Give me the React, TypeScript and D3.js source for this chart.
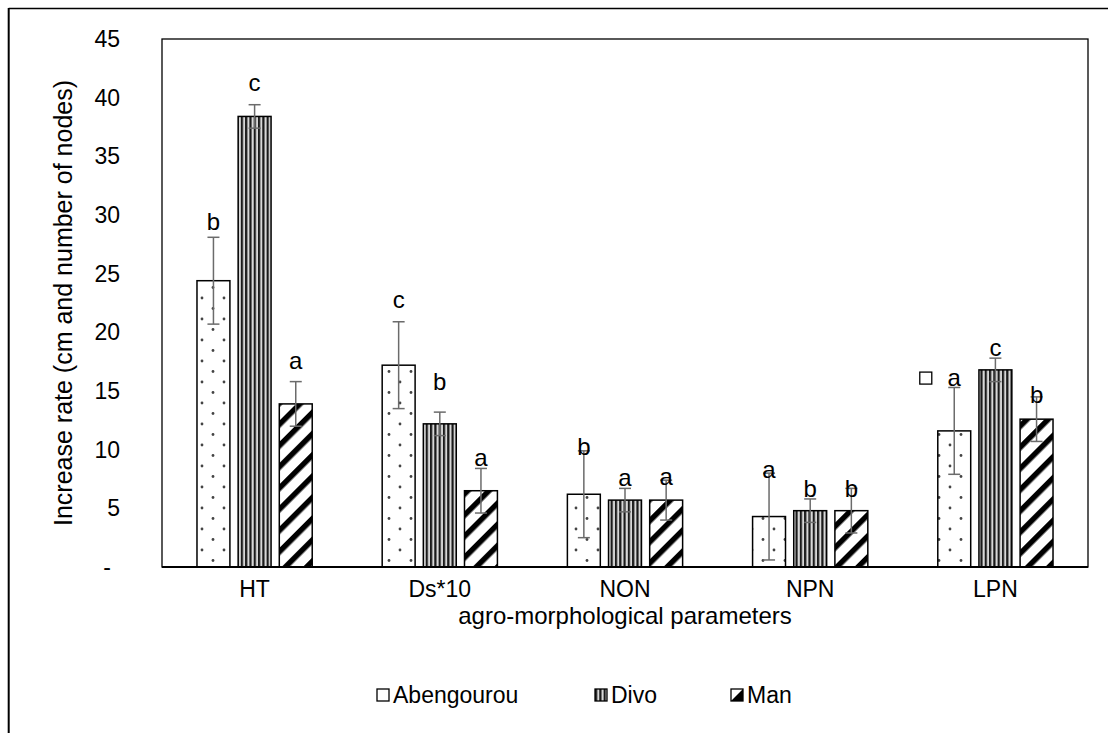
// App.tsx
import React, { useRef, useEffect } from 'react';
import * as d3 from 'd3';

const categories = ['HT', 'Ds*10', 'NON', 'NPN', 'LPN'];
const seriesNames = ['Abengourou', 'Divo', 'Man'];

// mean values
const abengourou = [24.4, 17.2, 6.2, 4.3, 11.6];
const divo = [38.4, 12.2, 5.7, 4.8, 16.8];
const man = [13.9, 6.5, 5.7, 4.8, 12.6];

// error (+/-)
const abengourouErr = [3.7, 3.7, 3.7, 3.7, 3.7];
const divoErr = [1.0, 1.0, 1.0, 1.0, 1.0];
const manErr = [1.9, 1.9, 1.7, 1.9, 1.9];

// significance letters and the height they sit at
const abengourouSig = ['b', 'c', 'b', 'a', 'a'];
const divoSig = ['c', 'b', 'a', 'b', 'c'];
const manSig = ['a', 'a', 'a', 'b', 'b'];
const abengourouSigY = [29.4, 22.8, 10.3, 8.3, 16.1];
const divoSigY = [41.3, 15.8, 7.6, 6.7, 18.7];
const manSigY = [17.6, 9.3, 7.7, 6.7, 14.7];

const yTicks = [0, 5, 10, 15, 20, 25, 30, 35, 40, 45];

const App = () => {
    const chartRef = useRef<SVGSVGElement>(null);

    useEffect(() => {
        const root = d3.select(chartRef.current);
        root.selectAll('*').remove();

        const font = 'Liberation Sans, Arial, sans-serif';
        const left = 162, right = 1088, top = 39, bottom = 567;

        const values = [abengourou, divo, man];
        const errs = [abengourouErr, divoErr, manErr];
        const sigs = [abengourouSig, divoSig, manSig];
        const sigYs = [abengourouSigY, divoSigY, manSigY];
        const fills = ['url(#dots)', 'url(#vstripes)', 'url(#diag)'];

        // patterns
        const defs = root.append('defs');
        const dots = defs.append('pattern')
            .attr('id', 'dots')
            .attr('patternUnits', 'userSpaceOnUse')
            .attr('width', 22).attr('height', 21);
        dots.append('rect').attr('width', 22).attr('height', 21).attr('fill', '#fff');
        dots.append('circle').attr('cx', 4).attr('cy', 4).attr('r', 1.4).attr('fill', '#444');
        dots.append('circle').attr('cx', 15).attr('cy', 14.5).attr('r', 1.4).attr('fill', '#444');

        const vs = defs.append('pattern')
            .attr('id', 'vstripes')
            .attr('patternUnits', 'userSpaceOnUse')
            .attr('width', 4.3).attr('height', 10);
        vs.append('rect').attr('width', 4.3).attr('height', 10).attr('fill', '#d8d8d8');
        vs.append('rect').attr('width', 2.2).attr('height', 10).attr('fill', '#1a1a1a');

        const dg = defs.append('pattern')
            .attr('id', 'diag')
            .attr('patternUnits', 'userSpaceOnUse')
            .attr('width', 15).attr('height', 15)
            .attr('patternTransform', 'rotate(45)');
        dg.append('rect').attr('width', 15).attr('height', 15).attr('fill', '#fff');
        dg.append('rect').attr('width', 5.5).attr('height', 15).attr('fill', '#000');

        // outer frame (runs off the page on right and bottom)
        root.append('line').attr('x1', 8.7).attr('x2', 1108).attr('y1', 8.5).attr('y2', 8.5)
            .attr('stroke', '#000').attr('stroke-width', 1.5);
        root.append('line').attr('x1', 8.7).attr('x2', 8.7).attr('y1', 8).attr('y2', 733)
            .attr('stroke', '#000').attr('stroke-width', 2);

        const x0 = d3.scaleBand().domain(categories).range([left, right]).paddingInner(0).paddingOuter(0);
        const x1 = d3.scaleBand().domain(seriesNames).range([0, x0.bandwidth()])
            .paddingInner(0.2).paddingOuter(0.85);
        const y = d3.scaleLinear().domain([0, 45]).range([bottom, top]);

        // plot box
        root.append('rect')
            .attr('x', left).attr('y', top)
            .attr('width', right - left).attr('height', bottom - top)
            .attr('fill', 'none').attr('stroke', '#000').attr('stroke-width', 1.3);

        // y tick labels
        root.append('g').selectAll('text')
            .data(yTicks)
            .enter()
            .append('text')
            .attr('x', (d) => (d === 0 ? 111 : 120))
            .attr('y', (d) => y(d))
            .attr('dy', '0.35em')
            .attr('text-anchor', 'end')
            .style('font-family', font)
            .style('font-size', '23px')
            .text((d) => (d === 0 ? '-' : String(d)));

        // bars
        seriesNames.forEach((s, si) => {
            const g = root.append('g');
            g.selectAll('rect')
                .data(categories)
                .enter()
                .append('rect')
                .attr('x', (c) => x0(c)! + x1(s)!)
                .attr('y', (c, i) => y(values[si][i]))
                .attr('width', x1.bandwidth())
                .attr('height', (c, i) => bottom - y(values[si][i]))
                .attr('fill', fills[si])
                .attr('stroke', '#000')
                .attr('stroke-width', 1.5);

            // error bars + letters
            categories.forEach((c, i) => {
                const cx = x0(c)! + x1(s)! + x1.bandwidth() / 2;
                const hi = y(values[si][i] + errs[si][i]);
                const lo = y(values[si][i] - errs[si][i]);
                g.append('line').attr('x1', cx).attr('x2', cx).attr('y1', hi).attr('y2', lo)
                    .attr('stroke', '#6b6b6b').attr('stroke-width', 1.5);
                [hi, lo].forEach((yy) => {
                    g.append('line').attr('x1', cx - 6).attr('x2', cx + 6).attr('y1', yy).attr('y2', yy)
                        .attr('stroke', '#6b6b6b').attr('stroke-width', 1.5);
                });
                g.append('text')
                    .attr('x', cx)
                    .attr('y', y(sigYs[si][i]))
                    .attr('dy', '0.35em')
                    .attr('text-anchor', 'middle')
                    .style('font-family', font)
                    .style('font-size', '24px')
                    .text(sigs[si][i]);
            });
        });

        // stray marker next to the LPN label
        root.append('rect')
            .attr('x', x0('LPN')! + x1('Abengourou')! - 18)
            .attr('y', y(abengourouSigY[4]) - 6)
            .attr('width', 12).attr('height', 12)
            .attr('fill', '#fff').attr('stroke', '#000').attr('stroke-width', 1.3);

        // x axis line
        root.append('line').attr('x1', left).attr('x2', right).attr('y1', bottom).attr('y2', bottom)
            .attr('stroke', '#000').attr('stroke-width', 2);

        // category labels
        root.append('g').selectAll('text')
            .data(categories)
            .enter()
            .append('text')
            .attr('x', (c) => x0(c)! + x0.bandwidth() / 2)
            .attr('y', 597)
            .attr('text-anchor', 'middle')
            .style('font-family', font)
            .style('font-size', '23px')
            .text((c) => c);

        // axis titles
        root.append('text')
            .attr('x', (left + right) / 2)
            .attr('y', 624)
            .attr('text-anchor', 'middle')
            .style('font-family', font)
            .style('font-size', '24px')
            .text('agro-morphological parameters');

        root.append('text')
            .attr('transform', `translate(72, ${(top + bottom) / 2}) rotate(-90)`)
            .attr('text-anchor', 'middle')
            .style('font-family', font)
            .style('font-size', '25px')
            .text('Increase rate (cm and number of nodes)');

        // legend
        const legendX = [377, 595, 731];
        const legendFills = ['#fff', 'url(#vstripes)', 'none'];
        const legend = root.append('g').attr('transform', 'translate(0, 695)');
        seriesNames.forEach((s, si) => {
            const lg = legend.append('g').attr('transform', `translate(${legendX[si]}, 0)`);
            lg.append('rect').attr('x', 0).attr('y', -6).attr('width', 12).attr('height', 12)
                .attr('fill', legendFills[si]).attr('stroke', '#000').attr('stroke-width', 1.3);
            if (si === 2) {
                lg.append('path').attr('d', 'M0,6 L12,-6 L12,6 Z').attr('fill', '#000');
            }
            lg.append('text')
                .attr('x', 16)
                .attr('dy', '0.35em')
                .style('font-family', font)
                .style('font-size', '23px')
                .text(s);
        });
    }, []);

    return (
        <svg
            ref={chartRef}
            width={1108}
            height={733}
            style={{ position: 'absolute', left: 0, top: 0, background: '#fff' }}
        ></svg>
    );
};

export default App;
